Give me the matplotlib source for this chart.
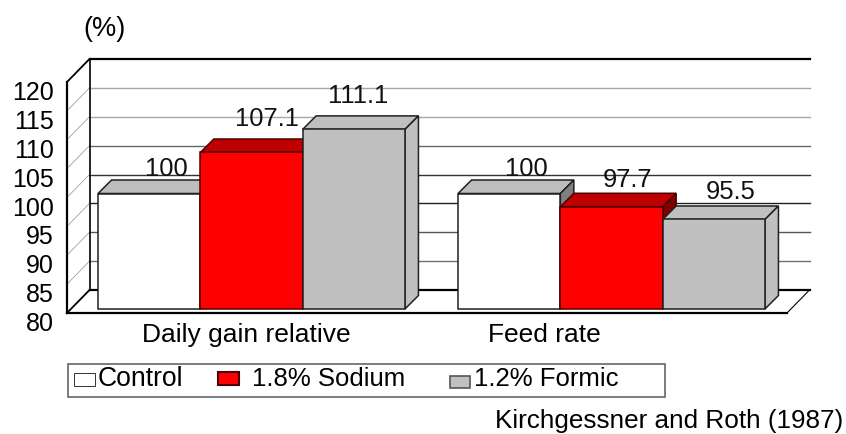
import matplotlib
matplotlib.use("Agg")
import matplotlib.pyplot as plt
from matplotlib.patches import Polygon, Rectangle
from matplotlib.transforms import Affine2D

plt.rcParams['font.family'] = ['Liberation Sans', 'DejaVu Sans']

categories = ["Daily gain relative", "Feed rate"]
series_names = ["Control", "1.8% Sodium", "1.2% Formic"]
control = [100, 100]
sodium = [107.1, 97.7]
formic = [111.1, 95.5]
y_ticks = [80, 85, 90, 95, 100, 105, 110, 115, 120]
grid_colors = ["#000000", "#707070", "#555555", "#222222", "#333333", "#666666", "#a8a8a8", "#a8a8a8"]

W, H = 846, 434
fig = plt.figure(figsize=(W / 100, H / 100), dpi=100, facecolor="white")
ax = fig.add_axes([67 / W, 1 - 313 / H, 720 / W, 231 / H], facecolor="none")
ax.set_xlim(-0.5, 1.5)
ax.set_ylim(80, 120)

px = 2 / 720          # data units per pixel, x
py = 40 / 231         # data units per pixel, y
wall_dx, wall_dy = 22.5 * px, 23 * py
bar_dx, bar_dy = 13.5 * px, 13.5 * py
shift_x, shift_y = 4.5 * px, 4 * py
bar_w = 102.3 * px

xl, xr = ax.get_xlim()
yb, yt = ax.get_ylim()

# back wall and side wall
for v, c in zip(y_ticks[:-1], grid_colors):
    lw = 1.6 if v == 80 else 1.0
    ax.plot([xl + wall_dx, xr + wall_dx], [v + wall_dy, v + wall_dy], color=c, lw=lw, clip_on=False, zorder=1)
    if v > 80:
        ax.plot([xl, xl + wall_dx], [v, v + wall_dy], color="#a0a0a0", lw=0.6, clip_on=False, zorder=1)
ax.plot([xl + wall_dx, xr + wall_dx], [yt + wall_dy] * 2, color="black", lw=1.6, clip_on=False, zorder=1)
ax.plot([xl + wall_dx] * 2, [yb + wall_dy, yt + wall_dy], color="black", lw=1.2, clip_on=False, zorder=1)
ax.plot([xl, xl + wall_dx], [yt, yt + wall_dy], color="black", lw=1.3, clip_on=False, zorder=1)
ax.plot([xl, xl + wall_dx], [yb, yb + wall_dy], color="black", lw=1.3, clip_on=False, zorder=1)
ax.plot([xr, xr + wall_dx], [yb, yb + wall_dy], color="black", lw=0.8, clip_on=False, zorder=1)

styles = [
    dict(front="#ffffff", top="#bdbdbd", side="#808080", edge="#202020"),
    dict(front="#ff0000", top="#bf0000", side="#800000", edge="#500000"),
    dict(front="#c0c0c0", top="#c0c0c0", side="#c0c0c0", edge="#202020"),
]
label_off = [[(17, 25), (15, 33), (4, 33)], [(17, 25), (16, 27), (17, 27)]]

for g in range(len(categories)):
    vals = [control[g], sodium[g], formic[g]]
    for i, v in enumerate(vals):
        s = styles[i]
        x0 = g + (i - 1.5) * bar_w + shift_x
        x1 = x0 + bar_w
        y0 = yb + shift_y
        y1 = v + shift_y
        z = 2 + i
        kw = dict(edgecolor=s["edge"], linewidth=1.1, clip_on=False, zorder=z, joinstyle="miter")
        ax.add_patch(Polygon([(x0, y1), (x1, y1), (x1 + bar_dx, y1 + bar_dy), (x0 + bar_dx, y1 + bar_dy)], facecolor=s["top"], **kw))
        ax.add_patch(Polygon([(x1, y0), (x1 + bar_dx, y0 + bar_dy), (x1 + bar_dx, y1 + bar_dy), (x1, y1)], facecolor=s["side"], **kw))
        ax.add_patch(Rectangle((x0, y0), bar_w, v - yb, facecolor=s["front"], **kw))
        ox, oy = label_off[g][i]
        ax.text((x0 + x1) / 2 + ox * px, y1 + oy * py, f"{v:g}", ha="center", va="center", fontsize=18.4, color="#111111", zorder=10)

# axes
for sp in ("top", "right"):
    ax.spines[sp].set_visible(False)
for sp in ("left", "bottom"):
    ax.spines[sp].set_linewidth(1.6)
ax.set_yticks(y_ticks)
ax.set_yticklabels([str(t) for t in y_ticks], fontsize=18)
ax.set_xticks([0, 1])
ax.set_xticklabels(categories, fontsize=19)
ax.tick_params(length=0, axis="y", pad=9.3)
ax.tick_params(length=0, axis="x", pad=0)
for lab in ax.get_yticklabels():
    lab.set_transform(lab.get_transform() + Affine2D().translate(0, -8.5))
for lab, dx in zip(ax.get_xticklabels(), (-1, -63)):
    lab.set_transform(lab.get_transform() + Affine2D().translate(dx, -10))

# overlay in figure pixels: unit label, legend, citation
ov = fig.add_axes([0, 0, 1, 1], facecolor="none")
ov.set_xlim(0, W)
ov.set_ylim(H, 0)
ov.axis("off")
ov.text(104.5, 29, "(%)", ha="center", va="center", fontsize=19.5)
ov.add_patch(Rectangle((68, 363.5), 597, 33.5, facecolor="white", edgecolor="#666666", lw=1.2))
swatches = [(73.5, 372.5, 21, 13, "#ffffff", "#333333", 0.7),
            (217.5, 371.5, 21, 13, "#ff0000", "#500000", 1.5),
            (449.5, 375.5, 20.5, 12.5, "#c0c0c0", "#555555", 1.2)]
leg_x = [98, 252, 474]
leg_size = [19.1, 18.5, 18.5]
for (x, y, w, h, fc, ec, lw), tx, name, fs in zip(swatches, leg_x, series_names, leg_size):
    ov.add_patch(Rectangle((x, y), w, h, facecolor=fc, edgecolor=ec, lw=lw))
    ov.text(tx, 378.5, name, ha="left", va="center", fontsize=fs)
ov.text(495, 428, "Kirchgessner and Roth (1987)", ha="left", va="baseline", fontsize=18.8)

fig.savefig("out.png", dpi=100)
